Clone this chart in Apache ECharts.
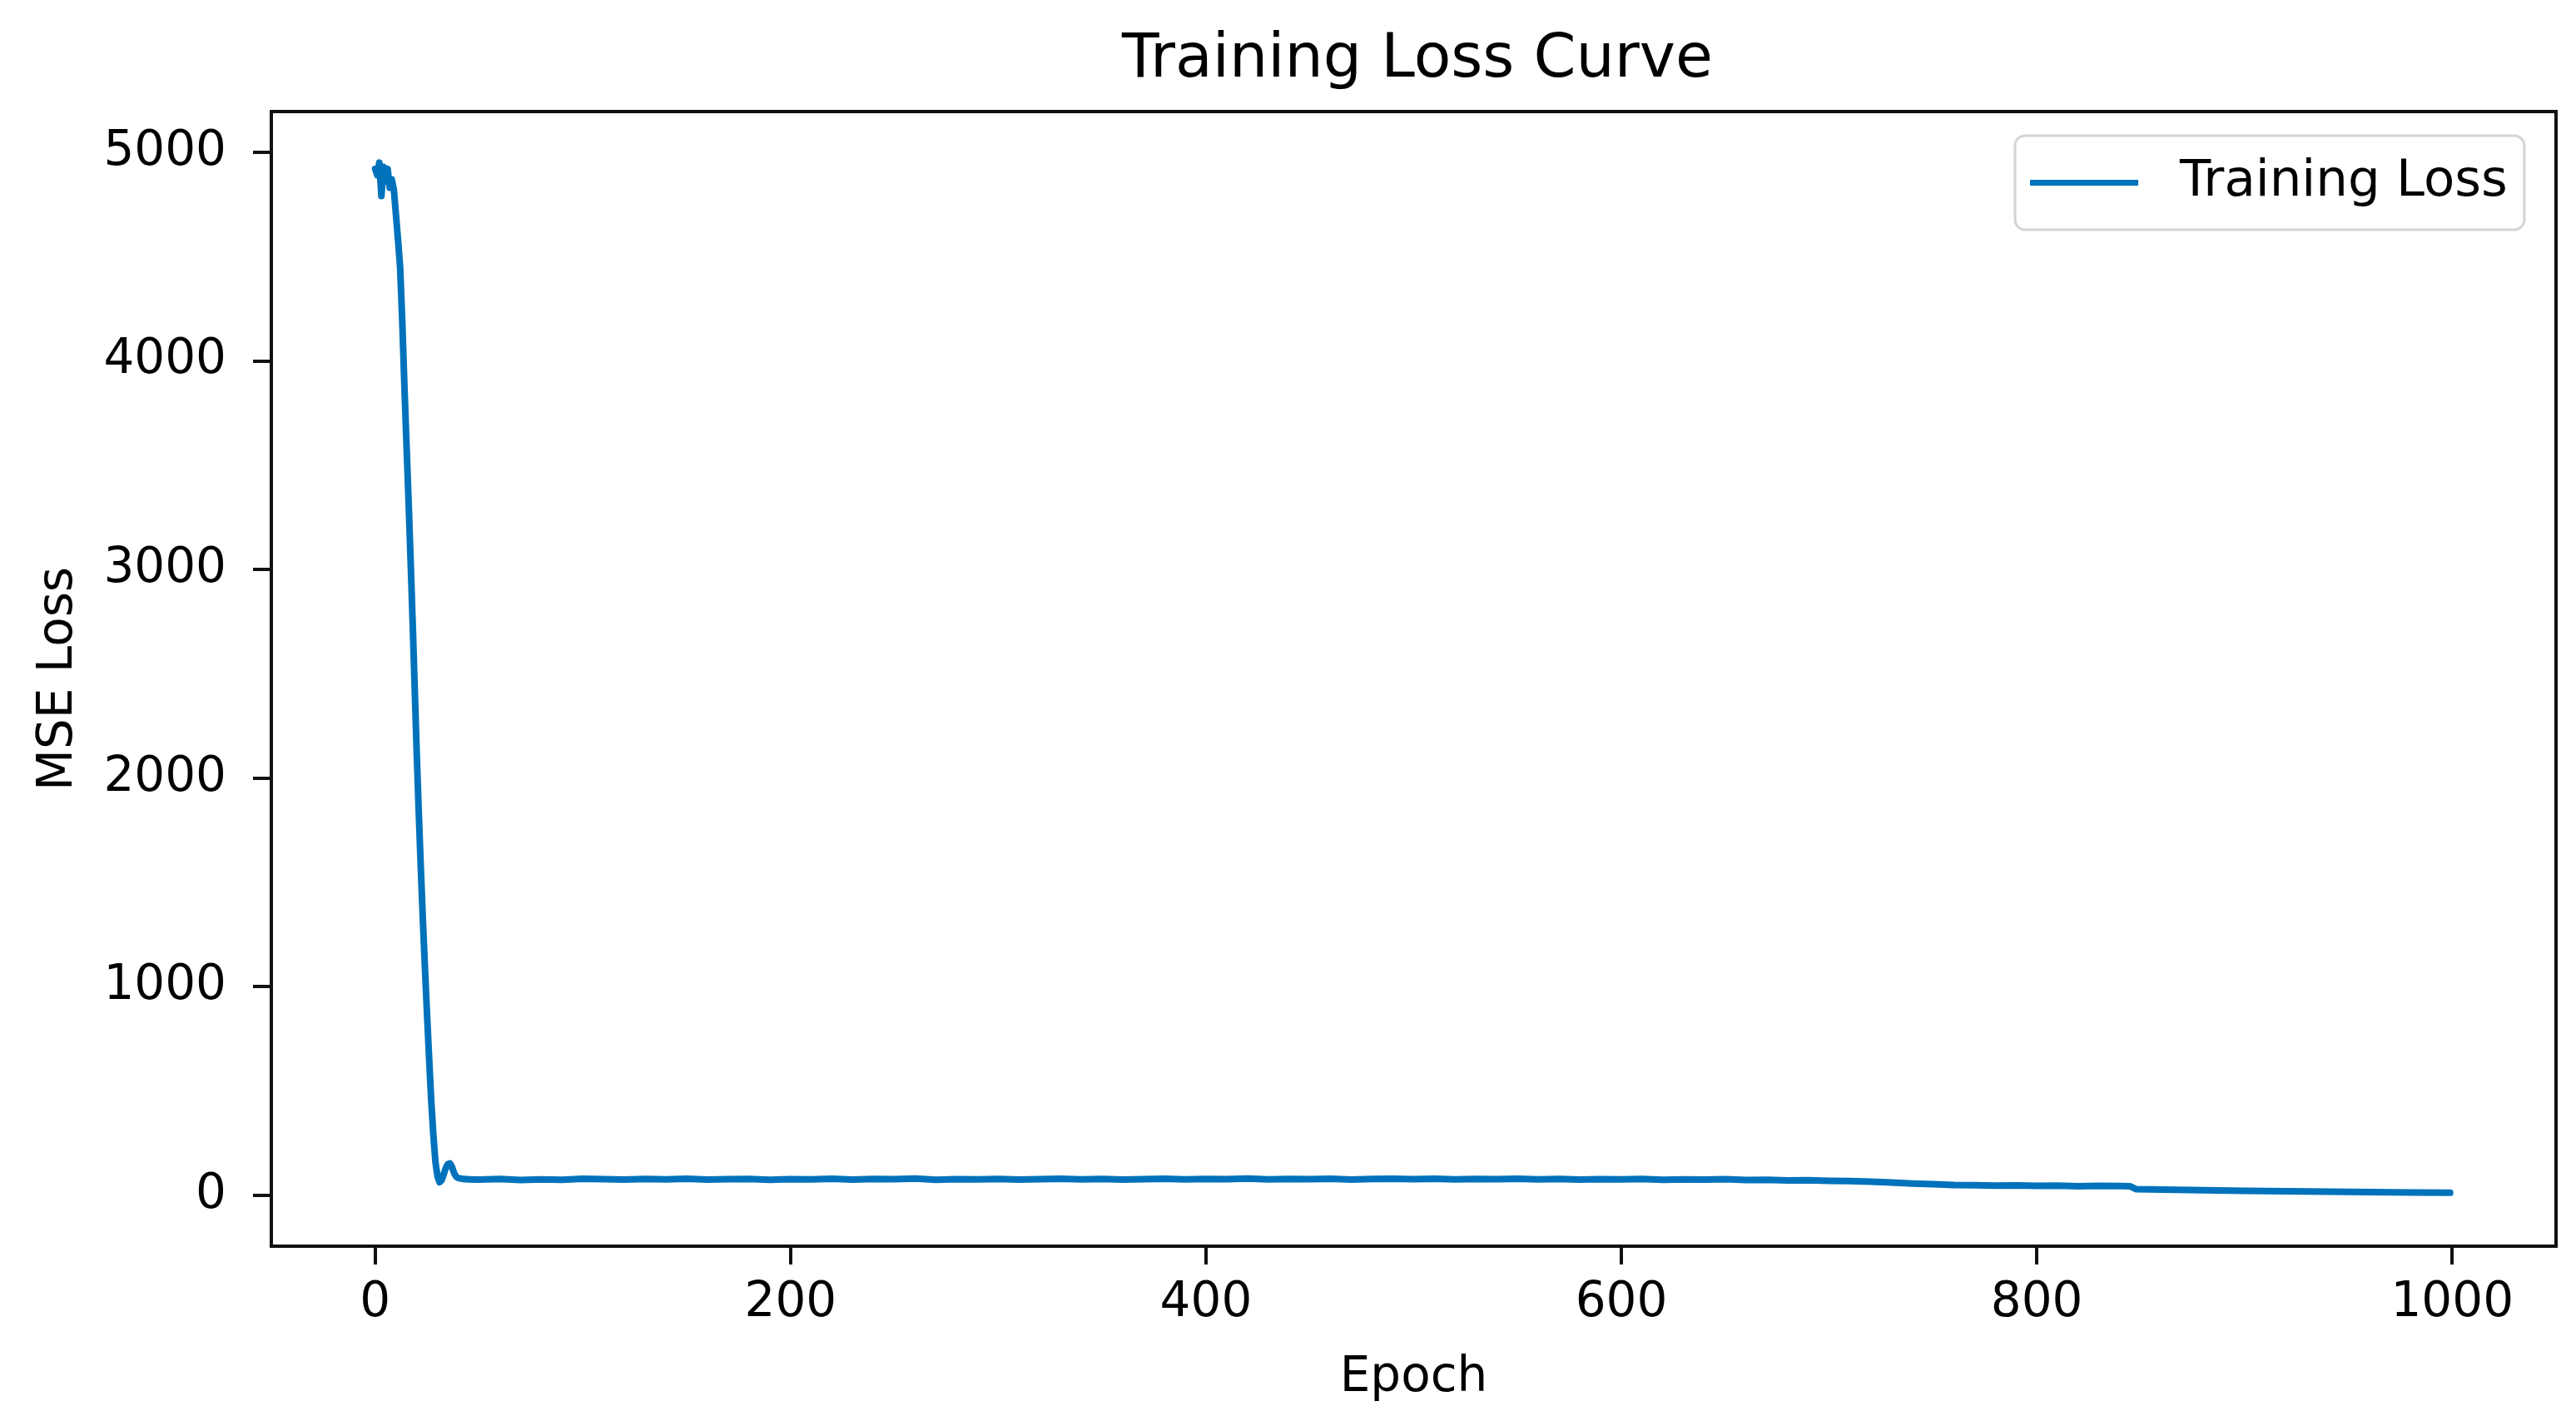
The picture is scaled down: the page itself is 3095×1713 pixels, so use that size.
<!DOCTYPE html>
<html>
<head>
<meta charset="utf-8">
<title>Training Loss Curve</title>
<script src="https://cdn.jsdelivr.net/npm/echarts@6/dist/echarts.min.js"></script>
<style>
  html, body { margin: 0; padding: 0; background: #fff; }
  #chart { width: 3095px; height: 1713px; }
</style>
</head>
<body>
<div id="chart"></div>
<script>
// values
var epochs = [
  0, 1, 2, 3, 4, 5, 6, 7, 8, 9,
  10, 11, 12, 13, 14, 15, 16, 17, 18, 19,
  20, 21, 22, 23, 24, 25, 26, 27, 28, 29,
  30, 31, 32, 33, 34, 35, 36, 37, 38, 39,
  40, 41, 42, 43, 44, 45,
  50, 60, 70, 80, 90, 100, 110, 120, 130, 140,
  150, 160, 170, 180, 190, 200, 210, 220, 230, 240,
  250, 260, 270, 280, 290, 300, 310, 320, 330, 340,
  350, 360, 370, 380, 390, 400, 410, 420, 430, 440,
  450, 460, 470, 480, 490, 500, 510, 520, 530, 540,
  550, 560, 570, 580, 590, 600, 610, 620, 630, 640,
  650, 660, 670, 680, 690, 700, 710, 720, 730, 740,
  750, 760, 770, 780, 790, 800, 810, 820, 830, 840,
  845, 848, 860, 880, 900, 920, 940, 960, 980, 999
]
var trainLoss = [
  4920, 4890, 4950, 4790, 4930, 4860, 4920, 4830, 4870, 4820,
  4700, 4580, 4450, 4200, 3900, 3620, 3350, 3060, 2760, 2440,
  2120, 1830, 1560, 1310, 1080, 860, 650, 450, 290, 160,
  90, 62, 72, 100, 130, 148, 152, 135, 105, 88,
  82, 80, 78, 76, 77, 75,
  74, 77, 72, 75, 73, 78, 76, 74, 77, 75,
  78, 74, 76, 77, 73, 76, 75, 78, 74, 77,
  76, 79, 73, 76, 75, 77, 74, 76, 78, 75,
  77, 74, 76, 78, 75, 77, 76, 79, 75, 77,
  76, 78, 74, 77, 78, 76, 78, 75, 77, 76,
  78, 75, 77, 74, 76, 75, 77, 73, 75, 74,
  76, 72, 73, 70, 71, 68, 67, 64, 60, 55,
  52, 48, 47, 45, 46, 44, 45, 42, 44, 43,
  42, 28, 26, 23, 20, 18, 16, 14, 12, 11
]
var xTicks = [0, 200, 400, 600, 800, 1000]
var yTicks = [0, 1000, 2000, 3000, 4000, 5000]

var font = 'DejaVu Sans'
var lineColor = '#0072BB'

var points = epochs.map(function (e, i) {
  return [e, trainLoss[i]]
})

function plain(v) {
  return String(v)
}

var chart = echarts.init(document.getElementById('chart'))
chart.setOption({
  animation: false,
  backgroundColor: '#fff',
  title: {
    text: 'Training Loss Curve',
    left: 1698,
    textAlign: 'center',
    top: 32,
    textStyle: {fontFamily: font, fontSize: 73, fontWeight: 'normal', color: '#000'}
  },
  legend: {
    left: 2421,
    top: 163,
    icon: 'rect',
    itemWidth: 130,
    itemHeight: 7,
    padding: [26, 20, 26, 18],
    backgroundColor: '#fff',
    borderColor: '#d4d4d4',
    borderWidth: 3,
    borderRadius: 12,
    textStyle: {fontFamily: font, fontSize: 61, color: '#000', padding: [0, 0, 0, 45]},
    data: ['Training Loss']
  },
  grid: {
    left: 326,
    right: 24,
    top: 134,
    bottom: 216,
    containLabel: false,
    show: true,
    borderColor: '#111',
    borderWidth: 4
  },
  xAxis: {
    type: 'value',
    min: -50,
    max: 1050,
    name: 'Epoch',
    nameLocation: 'middle',
    nameGap: 130,
    nameTextStyle: {fontFamily: font, fontSize: 58, color: '#000'},
    axisLine: {show: true, onZero: false, lineStyle: {color: '#111', width: 4}},
    axisTick: {show: true, inside: false, length: 22, lineStyle: {color: '#111', width: 4}, customValues: xTicks},
    axisLabel: {fontFamily: font, fontSize: 58, color: '#000', margin: 40, customValues: xTicks, formatter: plain},
    splitLine: {show: false}
  },
  yAxis: {
    type: 'value',
    min: -245,
    max: 5195,
    name: 'MSE Loss',
    nameLocation: 'middle',
    nameGap: 226,
    nameTextStyle: {fontFamily: font, fontSize: 58, color: '#000'},
    axisLine: {show: true, onZero: false, lineStyle: {color: '#111', width: 4}},
    axisTick: {show: true, inside: false, length: 22, lineStyle: {color: '#111', width: 4}, customValues: yTicks},
    axisLabel: {fontFamily: font, fontSize: 58, color: '#000', margin: 54, customValues: yTicks, formatter: plain},
    splitLine: {show: false}
  },
  series: [
    {
      name: 'Training Loss',
      type: 'line',
      data: points,
      showSymbol: false,
      symbol: 'none',
      color: lineColor,
      lineStyle: {color: lineColor, width: 8, join: 'round', cap: 'round'}
    }
  ]
})
</script>
</body>
</html>
